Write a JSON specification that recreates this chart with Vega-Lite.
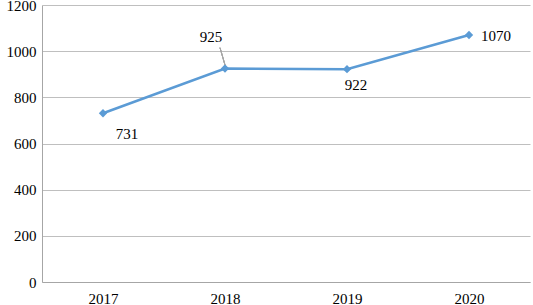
{
  "$schema": "https://vega.github.io/schema/vega-lite/v6.json",
  "width": 488,
  "height": 277,
  "autosize": {"type": "none"},
  "padding": {"left": 42, "top": 5, "right": 3, "bottom": 23},
  "background": "white",
  "config": {"view": {"stroke": null}, "font": "Liberation Serif"},
  "data": {"values": [
    {"year": "2017", "value": 731},
    {"year": "2018", "value": 925},
    {"year": "2019", "value": 922},
    {"year": "2020", "value": 1070}
  ]},
  "encoding": {
    "x": {"field": "year", "type": "ordinal", "scale": {"type": "point", "padding": 0.5},
      "axis": {"title": null, "labelAngle": 0, "labelFont": "Liberation Serif", "labelFontSize": 15, "labelColor": "#000", "labelPadding": 9, "ticks": false, "domainColor": "#A6A6A6", "domainWidth": 1, "grid": false}},
    "y": {"field": "value", "type": "quantitative", "scale": {"domain": [0, 1200], "nice": false},
      "axis": {"title": null, "format": "d", "values": [0, 200, 400, 600, 800, 1000, 1200], "labelFont": "Liberation Serif", "labelFontSize": 15, "labelColor": "#000", "labelPadding": 6, "ticks": false, "domainColor": "#A6A6A6", "gridColor": "#BFBFBF", "gridWidth": 1}}
  },
  "layer": [
    {"mark": {"type": "line", "color": "#5B9BD5", "strokeWidth": 2.5}},
    {"mark": {"type": "point", "shape": "diamond", "filled": true, "color": "#5B9BD5", "size": 70, "opacity": 1}},
    {"mark": {"type": "rule", "color": "#A6A6A6", "strokeWidth": 1, "x2Offset": -5},
      "encoding": {"x": {"datum": "2018"}, "x2": {"datum": "2018"}, "y": {"datum": 940}, "y2": {"datum": 1015}}},
    {"transform": [{"filter": "datum.year == '2017'"}],
      "mark": {"type": "text", "font": "Liberation Serif", "fontSize": 15, "color": "#000", "dx": 24, "dy": 21},
      "encoding": {"text": {"field": "value"}}},
    {"transform": [{"filter": "datum.year == '2018'"}],
      "mark": {"type": "text", "font": "Liberation Serif", "fontSize": 15, "color": "#000", "dx": -14, "dy": -31},
      "encoding": {"text": {"field": "value"}}},
    {"transform": [{"filter": "datum.year == '2019'"}],
      "mark": {"type": "text", "font": "Liberation Serif", "fontSize": 15, "color": "#000", "dx": 9, "dy": 16},
      "encoding": {"text": {"field": "value"}}},
    {"transform": [{"filter": "datum.year == '2020'"}],
      "mark": {"type": "text", "font": "Liberation Serif", "fontSize": 15, "color": "#000", "dx": 27, "dy": 1},
      "encoding": {"text": {"field": "value"}}}
  ]
}
